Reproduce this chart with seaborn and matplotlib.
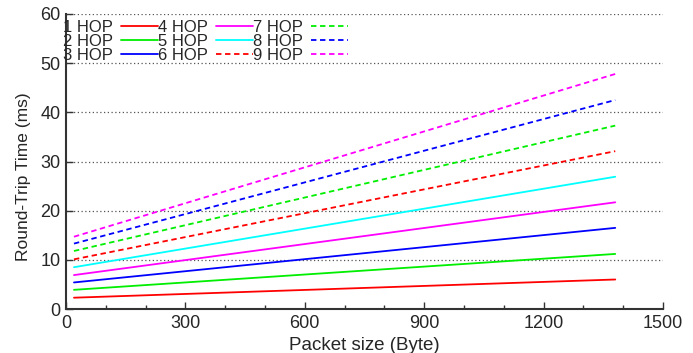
import numpy as np
import pandas as pd
import matplotlib
matplotlib.use("Agg")
import matplotlib.pyplot as plt
from matplotlib.ticker import MultipleLocator
import seaborn as sns

# Data (packet size vs RTT, per hop count)
packet_size = [20, 1380]
hops = ["1 HOP", "2 HOP", "3 HOP", "4 HOP", "5 HOP", "6 HOP", "7 HOP", "8 HOP", "9 HOP"]
rtt_1 = [2.3, 6.0]
rtt_2 = [3.9, 11.2]
rtt_3 = [5.4, 16.5]
rtt_4 = [6.9, 21.7]
rtt_5 = [8.5, 26.9]
rtt_6 = [10.1, 32.1]
rtt_7 = [11.8, 37.3]
rtt_8 = [13.3, 42.5]
rtt_9 = [14.7, 47.8]
all_rtt = [rtt_1, rtt_2, rtt_3, rtt_4, rtt_5, rtt_6, rtt_7, rtt_8, rtt_9]

colors = ["#ff0000", "#00ee00", "#0000ff", "#ff00ff", "#00ffff",
          "#ff0000", "#00ee00", "#0000ff", "#ff00ff"]
dashed = [False] * 5 + [True] * 4

sns.set_theme(style="white")
plt.rcParams['font.family'] = ['Liberation Sans', 'DejaVu Sans']

rows = []
for name, vals in zip(hops, all_rtt):
    for x, y in zip(packet_size, vals):
        rows.append({"size": x, "rtt": y, "hop": name})
df = pd.DataFrame(rows)

fig = plt.figure(figsize=(6.93, 3.53), dpi=100)
ax = fig.add_axes([66 / 693, 1 - 309 / 353, (663 - 66) / 693, (309 - 14) / 353])

for name, col, ds in zip(hops, colors, dashed):
    sub = df[df["hop"] == name]
    sns.lineplot(data=sub, x="size", y="rtt", ax=ax, color=col, label=name,
                 linewidth=1.3, linestyle=(0, (3, 2)) if ds else "-")

ax.set_xlim(0, 1500)
ax.set_ylim(0, 60)
ax.xaxis.set_major_locator(MultipleLocator(300))
ax.xaxis.set_minor_locator(MultipleLocator(100))
ax.yaxis.set_major_locator(MultipleLocator(10))
ax.tick_params(axis='both', which='major', direction='in', length=5, width=1,
               labelsize=13, color='#333333', pad=4)
ax.tick_params(axis='x', which='minor', direction='in', length=3, width=1, color='#333333')
ax.tick_params(left=True, bottom=True, which='both')

for y in range(10, 61, 10):
    ax.axhline(y, color='#555555', linestyle=(0, (1, 2)), linewidth=0.9, zorder=0)

for s in ['top', 'right']:
    ax.spines[s].set_visible(False)
for s in ['left', 'bottom']:
    ax.spines[s].set_color('#333333')
    ax.spines[s].set_linewidth(1.5)

ax.set_xlabel("Packet size (Byte)", fontsize=13.5)
ax.set_ylabel("Round-Trip Time (ms)", fontsize=12.5)
ax.xaxis.set_label_coords(0.5, -0.095)
ax.yaxis.set_label_coords(-0.058, 0.45)

ax.legend(loc='upper left', bbox_to_anchor=(63 / 693, 1 - 20 / 353),
          bbox_transform=fig.transFigure, ncol=3, frameon=False,
          markerfirst=False, fontsize=12, handlelength=2.2, handletextpad=0.5,
          columnspacing=0.0, labelspacing=-0.05, borderpad=0, borderaxespad=0)

fig.savefig("out.png", dpi=100)
